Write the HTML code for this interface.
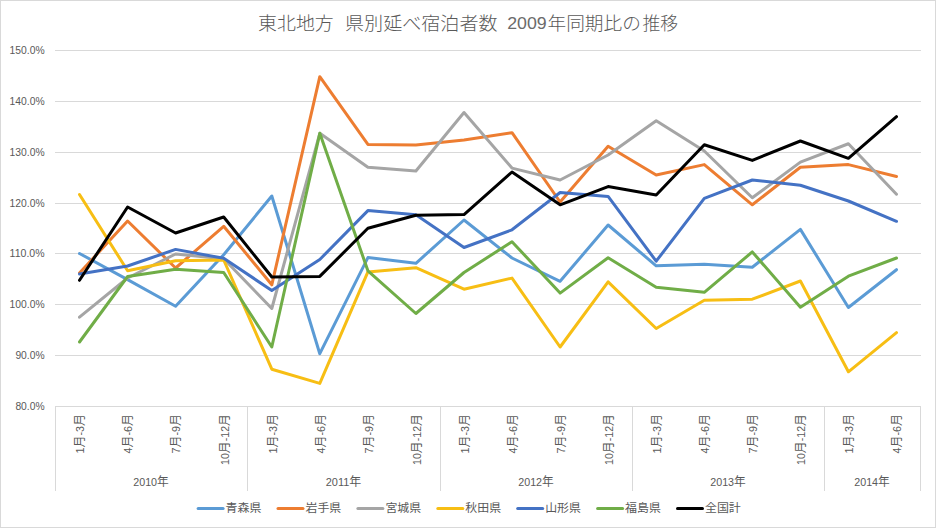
<!DOCTYPE html>
<html lang="ja"><head><meta charset="utf-8"><title>東北地方 県別延べ宿泊者数 2009年同期比の推移</title>
<style>html,body{margin:0;padding:0;background:#fff;}svg{display:block;}text{font-family:"Liberation Sans","Noto Sans CJK JP",sans-serif;}</style></head>
<body>
<svg width="936" height="528" viewBox="0 0 936 528">
<rect x="0" y="0" width="936" height="528" fill="#fff"/>
<rect x="0.5" y="0.5" width="935" height="527" fill="none" stroke="#D9D9D9" stroke-width="1"/>
<text x="258.1" y="29.8" font-size="18.67" font-weight="300" fill="#595959"  textLength="75.6" lengthAdjust="spacingAndGlyphs">東北地方</text>
<text x="345" y="29.8" font-size="18.67" font-weight="300" fill="#595959"  textLength="152.5" lengthAdjust="spacingAndGlyphs">県別延べ宿泊者数</text>
<text x="507.2" y="29" font-size="17" fill="#6B6B6B"  textLength="39.5" lengthAdjust="spacingAndGlyphs">2009</text>
<text x="547.5" y="29.8" font-size="18.67" font-weight="300" fill="#595959" >年同期比の</text>
<text x="642.5" y="29.8" font-size="18.67" font-weight="300" fill="#595959"  textLength="35.5" lengthAdjust="spacingAndGlyphs">推移</text>
<line x1="55" y1="50.5" x2="921" y2="50.5" stroke="#D9D9D9" stroke-width="1"/>
<line x1="55" y1="101.5" x2="921" y2="101.5" stroke="#D9D9D9" stroke-width="1"/>
<line x1="55" y1="152.5" x2="921" y2="152.5" stroke="#D9D9D9" stroke-width="1"/>
<line x1="55" y1="203.5" x2="921" y2="203.5" stroke="#D9D9D9" stroke-width="1"/>
<line x1="55" y1="253.5" x2="921" y2="253.5" stroke="#D9D9D9" stroke-width="1"/>
<line x1="55" y1="304.5" x2="921" y2="304.5" stroke="#D9D9D9" stroke-width="1"/>
<line x1="55" y1="355.5" x2="921" y2="355.5" stroke="#D9D9D9" stroke-width="1"/>
<line x1="55" y1="406.5" x2="921" y2="406.5" stroke="#D9D9D9" stroke-width="1"/>
<line x1="55.5" y1="406" x2="55.5" y2="491" stroke="#D9D9D9" stroke-width="1"/>
<line x1="247.5" y1="406" x2="247.5" y2="491" stroke="#D9D9D9" stroke-width="1"/>
<line x1="440.5" y1="406" x2="440.5" y2="491" stroke="#D9D9D9" stroke-width="1"/>
<line x1="632.5" y1="406" x2="632.5" y2="491" stroke="#D9D9D9" stroke-width="1"/>
<line x1="824.5" y1="406" x2="824.5" y2="491" stroke="#D9D9D9" stroke-width="1"/>
<line x1="920.5" y1="406" x2="920.5" y2="491" stroke="#D9D9D9" stroke-width="1"/>
<text x="44.6" y="53.6" text-anchor="end" font-size="11.5" fill="#595959"  textLength="35" lengthAdjust="spacingAndGlyphs">150.0%</text>
<text x="44.6" y="104.6" text-anchor="end" font-size="11.5" fill="#595959"  textLength="35" lengthAdjust="spacingAndGlyphs">140.0%</text>
<text x="44.6" y="155.6" text-anchor="end" font-size="11.5" fill="#595959"  textLength="35" lengthAdjust="spacingAndGlyphs">130.0%</text>
<text x="44.6" y="206.6" text-anchor="end" font-size="11.5" fill="#595959"  textLength="35" lengthAdjust="spacingAndGlyphs">120.0%</text>
<text x="44.6" y="256.6" text-anchor="end" font-size="11.5" fill="#595959"  textLength="35" lengthAdjust="spacingAndGlyphs">110.0%</text>
<text x="44.6" y="307.6" text-anchor="end" font-size="11.5" fill="#595959"  textLength="35" lengthAdjust="spacingAndGlyphs">100.0%</text>
<text x="44.6" y="358.6" text-anchor="end" font-size="11.5" fill="#595959"  textLength="29.2" lengthAdjust="spacingAndGlyphs">90.0%</text>
<text x="44.6" y="409.6" text-anchor="end" font-size="11.5" fill="#595959"  textLength="29.2" lengthAdjust="spacingAndGlyphs">80.0%</text>
<text transform="translate(84.3,414) rotate(-90)" x="0" y="0" text-anchor="end" font-size="12.5" fill="#595959"  textLength="39.5" lengthAdjust="spacingAndGlyphs"><tspan font-size="11.2">1</tspan>月<tspan font-size="11.2">-3</tspan>月</text>
<text transform="translate(132.4,414) rotate(-90)" x="0" y="0" text-anchor="end" font-size="12.5" fill="#595959"  textLength="39.5" lengthAdjust="spacingAndGlyphs"><tspan font-size="11.2">4</tspan>月<tspan font-size="11.2">-6</tspan>月</text>
<text transform="translate(180.4,414) rotate(-90)" x="0" y="0" text-anchor="end" font-size="12.5" fill="#595959"  textLength="39.5" lengthAdjust="spacingAndGlyphs"><tspan font-size="11.2">7</tspan>月<tspan font-size="11.2">-9</tspan>月</text>
<text transform="translate(228.5,414) rotate(-90)" x="0" y="0" text-anchor="end" font-size="12.5" fill="#595959"  textLength="51" lengthAdjust="spacingAndGlyphs"><tspan font-size="11.2">10</tspan>月<tspan font-size="11.2">-12</tspan>月</text>
<text transform="translate(276.6,414) rotate(-90)" x="0" y="0" text-anchor="end" font-size="12.5" fill="#595959"  textLength="39.5" lengthAdjust="spacingAndGlyphs"><tspan font-size="11.2">1</tspan>月<tspan font-size="11.2">-3</tspan>月</text>
<text transform="translate(324.6,414) rotate(-90)" x="0" y="0" text-anchor="end" font-size="12.5" fill="#595959"  textLength="39.5" lengthAdjust="spacingAndGlyphs"><tspan font-size="11.2">4</tspan>月<tspan font-size="11.2">-6</tspan>月</text>
<text transform="translate(372.7,414) rotate(-90)" x="0" y="0" text-anchor="end" font-size="12.5" fill="#595959"  textLength="39.5" lengthAdjust="spacingAndGlyphs"><tspan font-size="11.2">7</tspan>月<tspan font-size="11.2">-9</tspan>月</text>
<text transform="translate(420.7,414) rotate(-90)" x="0" y="0" text-anchor="end" font-size="12.5" fill="#595959"  textLength="51" lengthAdjust="spacingAndGlyphs"><tspan font-size="11.2">10</tspan>月<tspan font-size="11.2">-12</tspan>月</text>
<text transform="translate(468.8,414) rotate(-90)" x="0" y="0" text-anchor="end" font-size="12.5" fill="#595959"  textLength="39.5" lengthAdjust="spacingAndGlyphs"><tspan font-size="11.2">1</tspan>月<tspan font-size="11.2">-3</tspan>月</text>
<text transform="translate(516.8,414) rotate(-90)" x="0" y="0" text-anchor="end" font-size="12.5" fill="#595959"  textLength="39.5" lengthAdjust="spacingAndGlyphs"><tspan font-size="11.2">4</tspan>月<tspan font-size="11.2">-6</tspan>月</text>
<text transform="translate(564.9,414) rotate(-90)" x="0" y="0" text-anchor="end" font-size="12.5" fill="#595959"  textLength="39.5" lengthAdjust="spacingAndGlyphs"><tspan font-size="11.2">7</tspan>月<tspan font-size="11.2">-9</tspan>月</text>
<text transform="translate(612.9,414) rotate(-90)" x="0" y="0" text-anchor="end" font-size="12.5" fill="#595959"  textLength="51" lengthAdjust="spacingAndGlyphs"><tspan font-size="11.2">10</tspan>月<tspan font-size="11.2">-12</tspan>月</text>
<text transform="translate(661.0,414) rotate(-90)" x="0" y="0" text-anchor="end" font-size="12.5" fill="#595959"  textLength="39.5" lengthAdjust="spacingAndGlyphs"><tspan font-size="11.2">1</tspan>月<tspan font-size="11.2">-3</tspan>月</text>
<text transform="translate(709.1,414) rotate(-90)" x="0" y="0" text-anchor="end" font-size="12.5" fill="#595959"  textLength="39.5" lengthAdjust="spacingAndGlyphs"><tspan font-size="11.2">4</tspan>月<tspan font-size="11.2">-6</tspan>月</text>
<text transform="translate(757.1,414) rotate(-90)" x="0" y="0" text-anchor="end" font-size="12.5" fill="#595959"  textLength="39.5" lengthAdjust="spacingAndGlyphs"><tspan font-size="11.2">7</tspan>月<tspan font-size="11.2">-9</tspan>月</text>
<text transform="translate(805.2,414) rotate(-90)" x="0" y="0" text-anchor="end" font-size="12.5" fill="#595959"  textLength="51" lengthAdjust="spacingAndGlyphs"><tspan font-size="11.2">10</tspan>月<tspan font-size="11.2">-12</tspan>月</text>
<text transform="translate(853.2,414) rotate(-90)" x="0" y="0" text-anchor="end" font-size="12.5" fill="#595959"  textLength="39.5" lengthAdjust="spacingAndGlyphs"><tspan font-size="11.2">1</tspan>月<tspan font-size="11.2">-3</tspan>月</text>
<text transform="translate(901.3,414) rotate(-90)" x="0" y="0" text-anchor="end" font-size="12.5" fill="#595959"  textLength="39.5" lengthAdjust="spacingAndGlyphs"><tspan font-size="11.2">4</tspan>月<tspan font-size="11.2">-6</tspan>月</text>
<text x="151" y="486" text-anchor="middle" font-size="12" fill="#595959"  textLength="35.5" lengthAdjust="spacingAndGlyphs"><tspan font-size="11">2010</tspan>年</text>
<text x="343.5" y="486" text-anchor="middle" font-size="12" fill="#595959"  textLength="35.5" lengthAdjust="spacingAndGlyphs"><tspan font-size="11">2011</tspan>年</text>
<text x="536" y="486" text-anchor="middle" font-size="12" fill="#595959"  textLength="35.5" lengthAdjust="spacingAndGlyphs"><tspan font-size="11">2012</tspan>年</text>
<text x="728" y="486" text-anchor="middle" font-size="12" fill="#595959"  textLength="35.5" lengthAdjust="spacingAndGlyphs"><tspan font-size="11">2013</tspan>年</text>
<text x="872" y="486" text-anchor="middle" font-size="12" fill="#595959"  textLength="35.5" lengthAdjust="spacingAndGlyphs"><tspan font-size="11">2014</tspan>年</text>
<polyline points="79.5,253.5 127.6,279.6 175.6,306.2 223.7,254.7 271.8,196 319.8,353.7 367.9,257.6 415.9,263.3 464.0,220 512.0,258 560.1,281.3 608.1,225 656.2,265.8 704.3,264.3 752.3,267.2 800.4,229.4 848.4,307.5 896.5,269.7" fill="none" stroke="#5B9BD5" stroke-width="3" stroke-linejoin="round" stroke-linecap="round"/>
<polyline points="79.5,273 127.6,221 175.6,268 223.7,226.3 271.8,284.8 319.8,76.7 367.9,144.4 415.9,145 464.0,140 512.0,132.7 560.1,202 608.1,146.3 656.2,175 704.3,164.6 752.3,204.8 800.4,167.3 848.4,164.6 896.5,176.5" fill="none" stroke="#ED7D31" stroke-width="3" stroke-linejoin="round" stroke-linecap="round"/>
<polyline points="79.5,317.2 127.6,278 175.6,254 223.7,258.8 271.8,308.5 319.8,133.3 367.9,167.3 415.9,171 464.0,112.5 512.0,168.1 560.1,180 608.1,155 656.2,120.8 704.3,151 752.3,197.8 800.4,162.1 848.4,143.75 896.5,194.2" fill="none" stroke="#A5A5A5" stroke-width="3" stroke-linejoin="round" stroke-linecap="round"/>
<polyline points="79.5,194.5 127.6,270.8 175.6,260.8 223.7,260 271.8,369.2 319.8,383.4 367.9,271.9 415.9,267.7 464.0,289.2 512.0,278.1 560.1,347 608.1,281.8 656.2,328.5 704.3,300.2 752.3,299.2 800.4,281 848.4,371.8 896.5,332.6" fill="none" stroke="#F7BE14" stroke-width="3" stroke-linejoin="round" stroke-linecap="round"/>
<polyline points="79.5,274 127.6,266 175.6,249.4 223.7,258.3 271.8,290.5 319.8,259.5 367.9,210.6 415.9,214.8 464.0,247.5 512.0,229.8 560.1,192.5 608.1,196.4 656.2,261.2 704.3,198.3 752.3,180 800.4,185.3 848.4,201 896.5,221.3" fill="none" stroke="#4472C4" stroke-width="3" stroke-linejoin="round" stroke-linecap="round"/>
<polyline points="79.5,342 127.6,276.5 175.6,269.2 223.7,272.5 271.8,347 319.8,133.3 367.9,270.8 415.9,313.5 464.0,272.5 512.0,241.7 560.1,293.1 608.1,257.8 656.2,287.2 704.3,292.3 752.3,251.9 800.4,307.3 848.4,276.2 896.5,258" fill="none" stroke="#70AD47" stroke-width="3" stroke-linejoin="round" stroke-linecap="round"/>
<polyline points="79.5,280.3 127.6,207 175.6,233 223.7,217 271.8,277 319.8,276.4 367.9,228.3 415.9,215.3 464.0,214.6 512.0,172 560.1,204.8 608.1,186.6 656.2,195 704.3,144.8 752.3,160.4 800.4,141 848.4,158.3 896.5,116.7" fill="none" stroke="#000000" stroke-width="3" stroke-linejoin="round" stroke-linecap="round"/>
<line x1="198.1" y1="508.5" x2="223.1" y2="508.5" stroke="#5B9BD5" stroke-width="3" stroke-linecap="round"/>
<text x="225.6" y="512.3" font-size="11.5" fill="#595959"  textLength="35.8" lengthAdjust="spacingAndGlyphs">青森県</text>
<line x1="278.0" y1="508.5" x2="303.0" y2="508.5" stroke="#ED7D31" stroke-width="3" stroke-linecap="round"/>
<text x="305.5" y="512.3" font-size="11.5" fill="#595959"  textLength="35.8" lengthAdjust="spacingAndGlyphs">岩手県</text>
<line x1="357.9" y1="508.5" x2="382.9" y2="508.5" stroke="#A5A5A5" stroke-width="3" stroke-linecap="round"/>
<text x="385.4" y="512.3" font-size="11.5" fill="#595959"  textLength="35.8" lengthAdjust="spacingAndGlyphs">宮城県</text>
<line x1="437.8" y1="508.5" x2="462.8" y2="508.5" stroke="#F7BE14" stroke-width="3" stroke-linecap="round"/>
<text x="465.3" y="512.3" font-size="11.5" fill="#595959"  textLength="35.8" lengthAdjust="spacingAndGlyphs">秋田県</text>
<line x1="517.7" y1="508.5" x2="542.7" y2="508.5" stroke="#4472C4" stroke-width="3" stroke-linecap="round"/>
<text x="545.2" y="512.3" font-size="11.5" fill="#595959"  textLength="35.8" lengthAdjust="spacingAndGlyphs">山形県</text>
<line x1="597.6" y1="508.5" x2="622.6" y2="508.5" stroke="#70AD47" stroke-width="3" stroke-linecap="round"/>
<text x="625.1" y="512.3" font-size="11.5" fill="#595959"  textLength="35.8" lengthAdjust="spacingAndGlyphs">福島県</text>
<line x1="677.5" y1="508.5" x2="702.5" y2="508.5" stroke="#000000" stroke-width="3" stroke-linecap="round"/>
<text x="705.0" y="512.3" font-size="11.5" fill="#595959"  textLength="35.8" lengthAdjust="spacingAndGlyphs">全国計</text>
</svg>
</body></html>
